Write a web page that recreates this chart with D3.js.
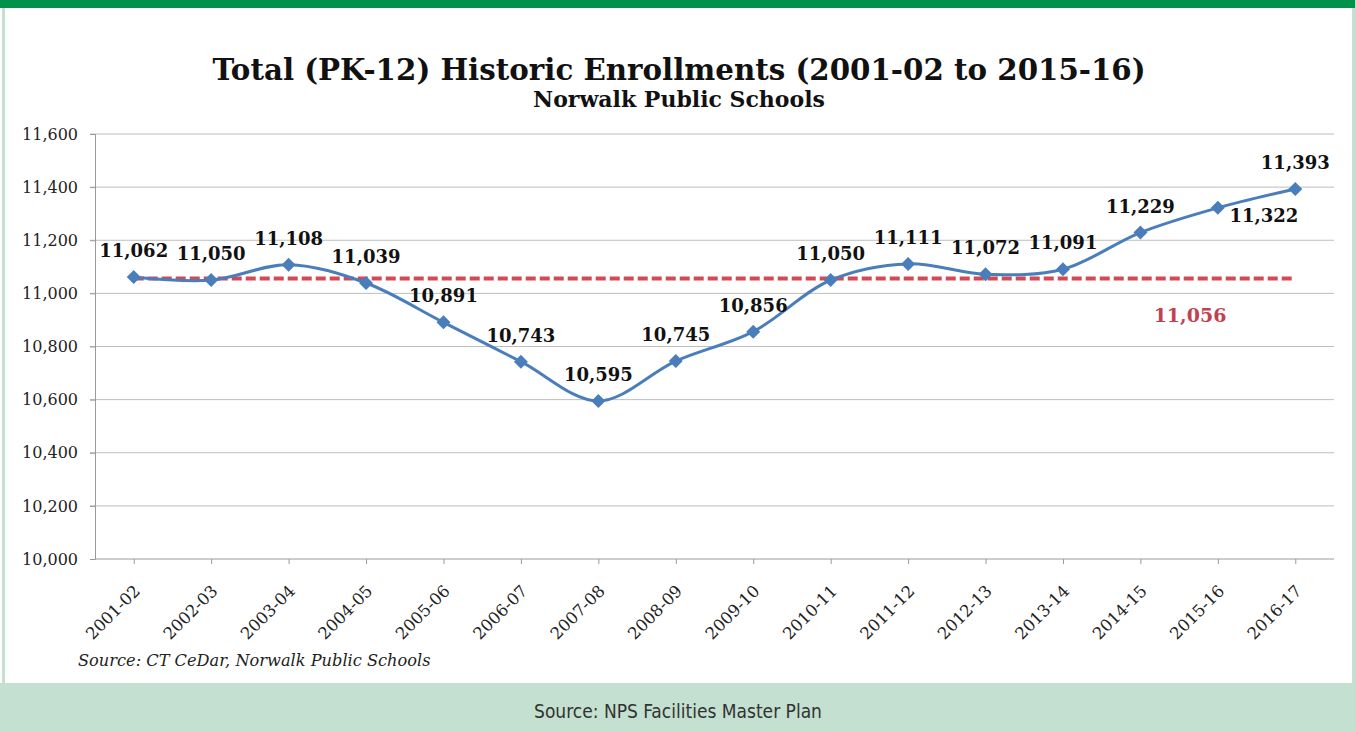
<!DOCTYPE html>
<html>
<head>
<meta charset="utf-8">
<script src="https://cdn.jsdelivr.net/npm/d3@7/dist/d3.min.js"></script>
<style>
  html, body { margin: 0; padding: 0; background: #fff; }
  svg { display: block; }
</style>
</head>
<body>
<svg id="chart" width="1355" height="732"></svg>
<script>
const categories = ["2001-02","2002-03","2003-04","2004-05","2005-06","2006-07","2007-08","2008-09","2009-10","2010-11","2011-12","2012-13","2013-14","2014-15","2015-16","2016-17"];
const enrollment = [11062,11050,11108,11039,10891,10743,10595,10745,10856,11050,11111,11072,11091,11229,11322,11393];
const averageValue = 11056;
const yTicks = [10000,10200,10400,10600,10800,11000,11200,11400,11600];
const titleText = "Total (PK-12) Historic Enrollments (2001-02 to 2015-16)";
const subtitleText = "Norwalk Public Schools";
const sourceText = "Source: CT CeDar, Norwalk Public Schools";
const footerText = "Source: NPS Facilities Master Plan";

const W = 1355, H = 732;
const svg = d3.select("#chart");
const serif = "'DejaVu Serif', Georgia, serif";

// frame
svg.append("rect").attr("x",0).attr("y",0).attr("width",W).attr("height",H).attr("fill","#fff");
svg.append("rect").attr("x",2).attr("y",0).attr("width",3).attr("height",H).attr("fill","#c4e0d0");
svg.append("rect").attr("x",W-3).attr("y",0).attr("width",3).attr("height",H).attr("fill","#c4e0d0");
svg.append("rect").attr("x",0).attr("y",0).attr("width",W).attr("height",8).attr("fill","#00924a");
svg.append("rect").attr("x",0).attr("y",683).attr("width",W).attr("height",H-683).attr("fill","#c4e0d0");
svg.append("text").attr("x",678).attr("y",718).attr("text-anchor","middle")
  .attr("font-family","'Liberation Sans Narrow', 'DejaVu Sans Condensed', 'Open Sans', sans-serif")
  .attr("font-size",19).attr("fill","#333").text(footerText);

// titles
svg.append("text").attr("x",679).attr("y",80).attr("text-anchor","middle")
  .attr("font-family",serif).attr("font-weight","bold").attr("font-size",29.3).attr("fill","#111").text(titleText);
svg.append("text").attr("x",679).attr("y",107).attr("text-anchor","middle")
  .attr("font-family",serif).attr("font-weight","bold").attr("font-size",22).attr("fill","#111").text(subtitleText);

// scales
const plotLeft = 95, plotRight = 1334, plotTop = 134, plotBottom = 559;
const x = d3.scalePoint().domain(categories).range([plotLeft, plotRight]).padding(0.5);
const y = d3.scaleLinear().domain([10000, 11600]).range([plotBottom, plotTop]);

// gridlines
svg.append("g").selectAll("line").data(yTicks.filter(d => d !== 10000)).join("line")
  .attr("x1", plotLeft - 5).attr("x2", plotRight).attr("y1", d => y(d)).attr("y2", d => y(d))
  .attr("stroke", "#bdbdbd").attr("stroke-width", 1);

// y axis
const yAxis = svg.append("g").attr("transform", `translate(${plotLeft},0)`)
  .call(d3.axisLeft(y).tickValues(yTicks).tickFormat(d3.format(",")).tickSize(5).tickPadding(12));
yAxis.select(".domain").attr("stroke", "#9a9a9a");
yAxis.selectAll(".tick line").attr("stroke", "#9a9a9a");
yAxis.selectAll("text").attr("font-family", serif).attr("font-size", 16).attr("fill", "#222");

// x axis
const xAxis = svg.append("g").attr("transform", `translate(0,${plotBottom})`)
  .call(d3.axisBottom(x).tickSize(5).tickSizeOuter(0));
xAxis.select(".domain").attr("stroke", "#9a9a9a").attr("d", `M${plotLeft},0H${plotRight}`);
xAxis.selectAll(".tick line").attr("stroke", "#9a9a9a");
xAxis.selectAll("text").attr("font-family", serif).attr("font-size", 16.5).attr("fill", "#222")
  .attr("text-anchor", "end").attr("dy", 0).attr("y", 0)
  .attr("transform", "translate(7,33) rotate(-45)");

// average dashed line
svg.append("line")
  .attr("x1", x(categories[0])).attr("x2", x(categories[categories.length-1]))
  .attr("y1", y(averageValue)).attr("y2", y(averageValue))
  .attr("stroke", "#d24a55").attr("stroke-width", 4).attr("stroke-dasharray", "10,4");
svg.append("text").attr("x", 1190).attr("y", 322).attr("text-anchor", "middle")
  .attr("font-family", serif).attr("font-weight", "bold").attr("font-size", 19).attr("fill", "#c2414f")
  .text(d3.format(",")(averageValue));

// line
const pts = categories.map((c, i) => ({c, v: enrollment[i]}));
svg.append("path").datum(pts)
  .attr("fill", "none").attr("stroke", "#4a7ebb").attr("stroke-width", 3)
  .attr("d", d3.line().x(d => x(d.c)).y(d => y(d.v)).curve(d3.curveCatmullRom.alpha(0.5)));

// markers
svg.append("g").selectAll("path").data(pts).join("path")
  .attr("transform", d => `translate(${x(d.c)},${y(d.v)})`)
  .attr("d", "M0,-7L7,0L0,7L-7,0Z").attr("fill", "#4a7ebb");

// data labels
const belowRight = new Set(["2015-16"]);
svg.append("g").selectAll("text").data(pts).join("text")
  .attr("x", d => belowRight.has(d.c) ? x(d.c) + 46 : x(d.c))
  .attr("y", d => belowRight.has(d.c) ? y(d.v) + 14 : y(d.v) - 20)
  .attr("text-anchor", "middle")
  .attr("font-family", serif).attr("font-weight", "bold").attr("font-size", 18).attr("fill", "#111")
  .text(d => d3.format(",")(d.v));

// source
svg.append("text").attr("x", 78).attr("y", 666)
  .attr("font-family", serif).attr("font-style", "italic").attr("font-size", 16.2).attr("fill", "#222")
  .text(sourceText);
</script>
</body>
</html>
